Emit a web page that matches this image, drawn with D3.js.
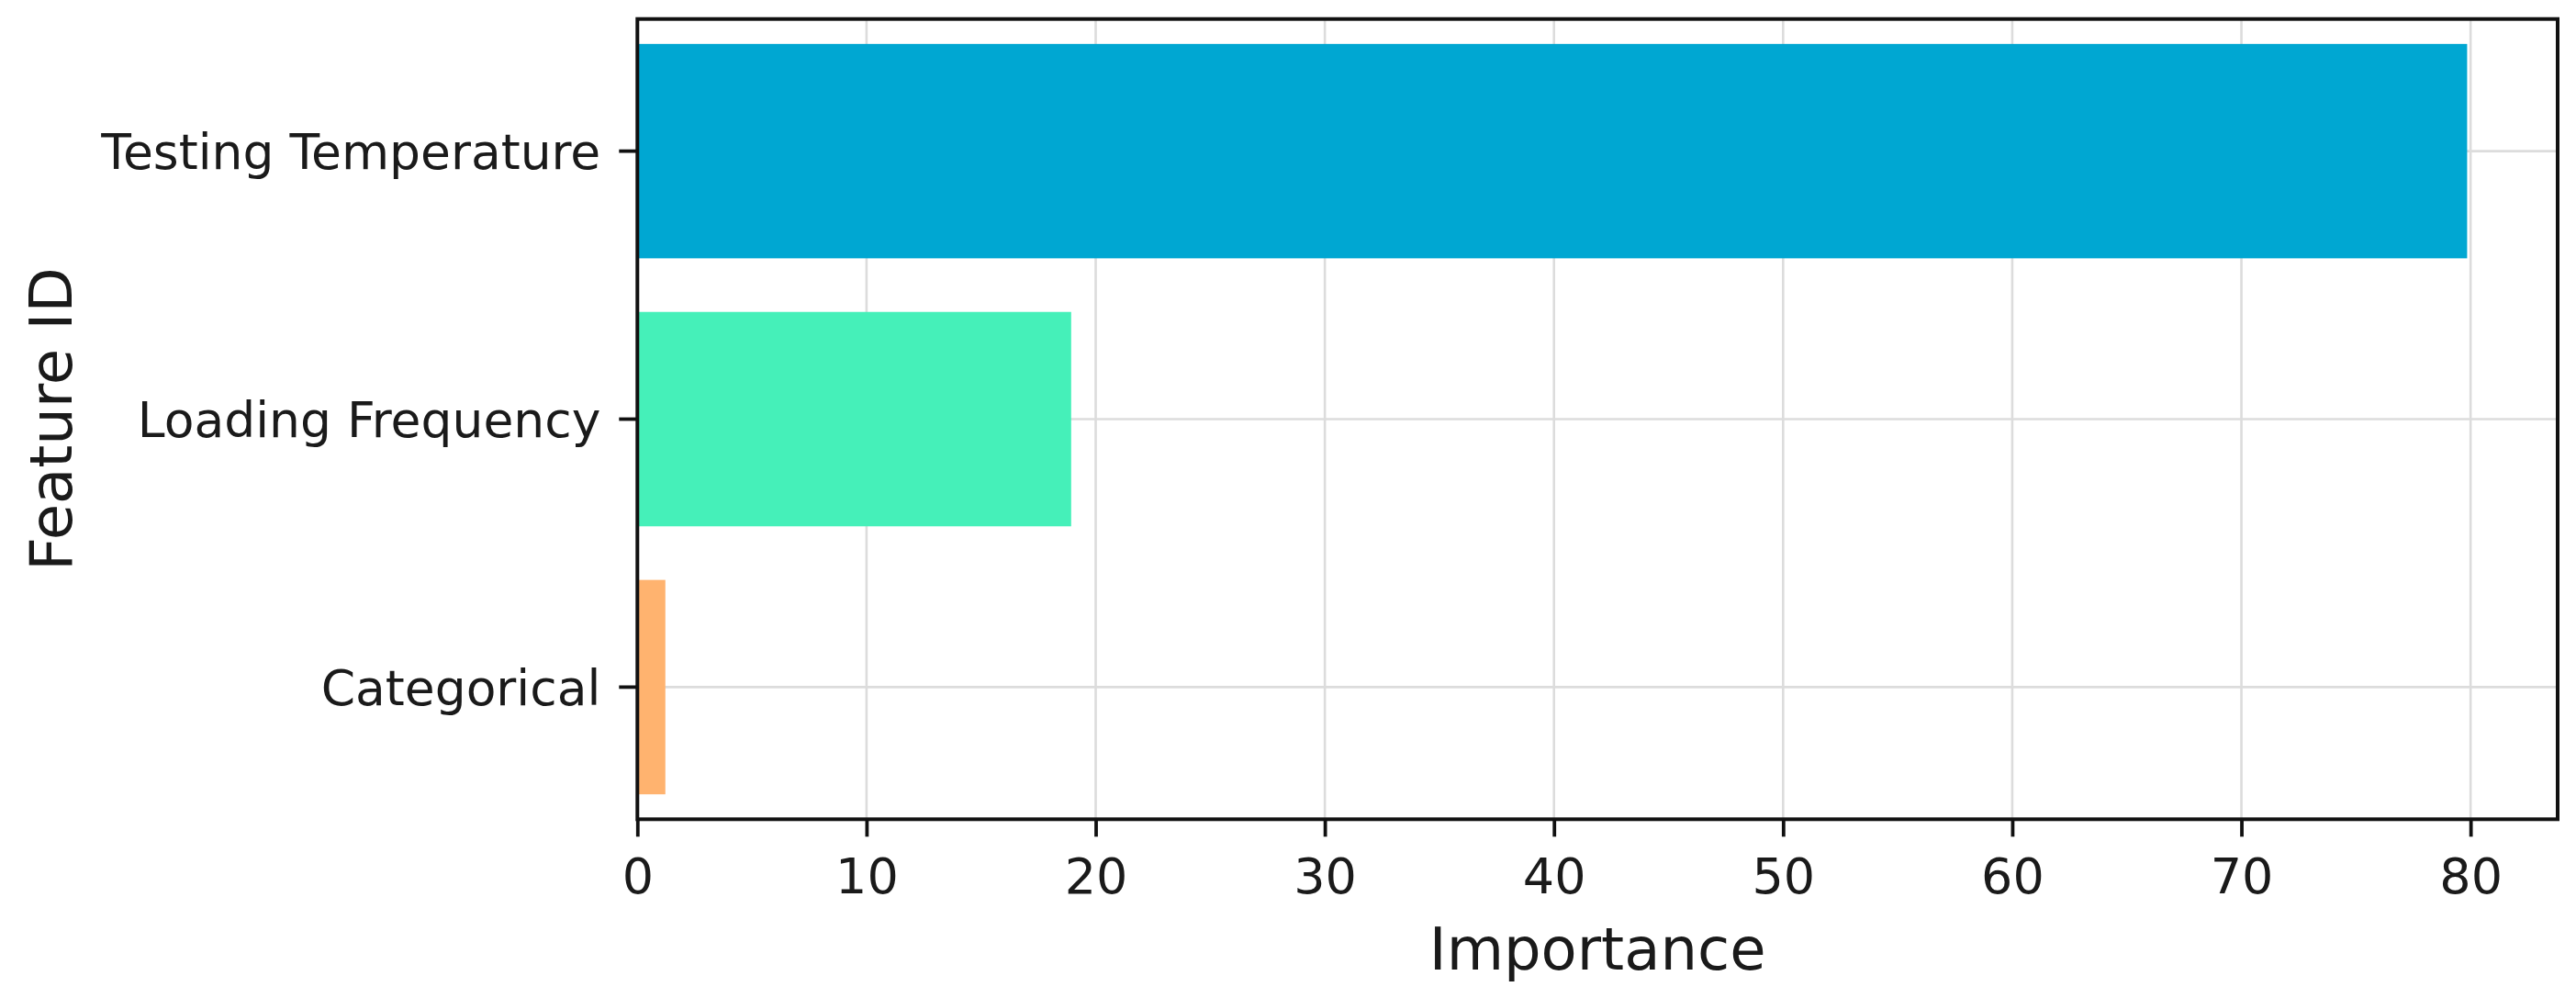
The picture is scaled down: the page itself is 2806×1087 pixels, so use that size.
<!DOCTYPE html>
<html>
<head>
<meta charset="utf-8">
<script src="https://cdn.jsdelivr.net/npm/d3@7"></script>
<style>
  html, body { margin: 0; padding: 0; background: #ffffff; }
  svg { display: block; }
  text { font-family: "DejaVu Sans", sans-serif; }
</style>
</head>
<body>
<script>
// ---- data ----
const categories = ["Testing Temperature", "Loading Frequency", "Categorical"];
const importance = [79.85, 18.93, 1.22];
const barColors = ["#00a7d2", "#45f0b9", "#ffb36f"];
const xTicks = [0, 10, 20, 30, 40, 50, 60, 70, 80];
const xLabel = "Importance";
const yLabel = "Feature ID";

// ---- layout ----
const W = 2806, H = 1087;
const plot = { left: 694.3, right: 2786, top: 20.7, bottom: 892.3 };

const svg = d3.select("body").append("svg")
  .attr("width", W).attr("height", H);

const x = d3.scaleLinear().domain([0, 83.8]).range([plot.left, plot.right]);
const y = d3.scaleBand().domain(categories)
  .range([plot.top, plot.bottom])
  .paddingInner(0.2).paddingOuter(0.093);

// grid
const grid = svg.append("g").attr("stroke", "#dcdcdc").attr("stroke-width", 2.6);
grid.selectAll("line.v").data(xTicks).join("line")
  .attr("x1", d => x(d)).attr("x2", d => x(d))
  .attr("y1", plot.top).attr("y2", plot.bottom);
grid.selectAll("line.h").data(categories).join("line")
  .attr("x1", plot.left).attr("x2", plot.right)
  .attr("y1", d => y(d) + y.bandwidth() / 2).attr("y2", d => y(d) + y.bandwidth() / 2);

// bars
svg.append("g").selectAll("rect").data(categories).join("rect")
  .attr("x", x(0))
  .attr("y", d => y(d))
  .attr("width", (d, i) => x(importance[i]) - x(0))
  .attr("height", y.bandwidth())
  .attr("fill", (d, i) => barColors[i]);

// frame
svg.append("rect")
  .attr("x", plot.left).attr("y", plot.top)
  .attr("width", plot.right - plot.left).attr("height", plot.bottom - plot.top)
  .attr("fill", "none").attr("stroke", "#111").attr("stroke-width", 4);

// x axis
const xAxis = svg.append("g")
  .attr("transform", `translate(0,${plot.bottom})`)
  .call(d3.axisBottom(x).tickValues(xTicks).tickSize(19).tickSizeOuter(0).tickFormat(d3.format("d")));
xAxis.select(".domain").remove();
xAxis.selectAll(".tick line").attr("stroke", "#111").attr("stroke-width", 3.8);
xAxis.selectAll(".tick text")
  .attr("y", 80.4).attr("dy", 0)
  .attr("font-size", 54).attr("fill", "#1a1a1a")
  .attr("font-family", "DejaVu Sans");

// y axis
const yAxis = svg.append("g")
  .attr("transform", `translate(${plot.left},0)`)
  .call(d3.axisLeft(y).tickSize(20).tickSizeOuter(0).tickPadding(20));
yAxis.select(".domain").remove();
yAxis.selectAll(".tick line").attr("stroke", "#111").attr("stroke-width", 3.8);
yAxis.selectAll(".tick text")
  .attr("font-size", 53.5).attr("fill", "#1a1a1a")
  .attr("dy", "0.36em")
  .attr("font-family", "DejaVu Sans");

// axis labels
svg.append("text")
  .attr("x", (plot.left + plot.right) / 2).attr("y", 1056)
  .attr("text-anchor", "middle")
  .attr("font-size", 64).attr("fill", "#1a1a1a")
  .text(xLabel);

svg.append("text")
  .attr("transform", `translate(78,${(plot.top + plot.bottom) / 2}) rotate(-90)`)
  .attr("text-anchor", "middle")
  .attr("font-size", 64).attr("fill", "#1a1a1a")
  .text(yLabel);
</script>
</body>
</html>
